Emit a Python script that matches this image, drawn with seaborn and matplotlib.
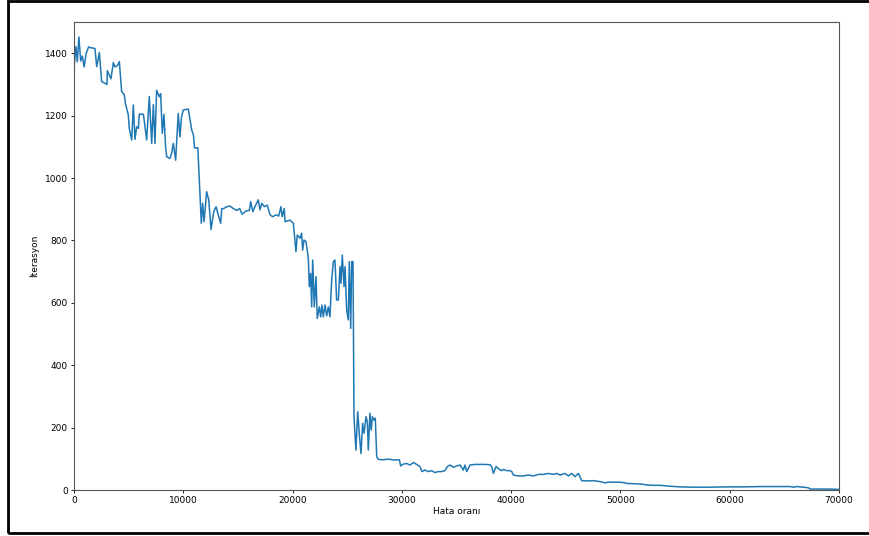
import pandas as pd
import matplotlib.pyplot as plt
import matplotlib.patches as patches
import seaborn as sns

# values
hata = [0, 180, 300, 450, 610, 760, 930, 1110, 1340, 1500, 1920, 2075, 2320, 2530, 3020,
        3050, 3380, 3600, 3750, 3970, 4150, 4360, 4600, 4700, 4970, 5060, 5280, 5430, 5580,
        5730, 5890, 5980, 6350, 6650, 6890, 7110, 7260, 7410, 7560, 7810, 7930, 8080, 8230,
        8380, 8480, 8780, 8930, 9090, 9300, 9540, 9690, 9840, 10000, 10460, 10770, 10930,
        11030, 11330, 11650, 11770, 11900, 12140, 12330, 12540, 12780, 13000, 13210, 13420,
        13520, 13700, 13960, 14270, 14580, 14900, 15160, 15380, 15720, 16040, 16170, 16360,
        16560, 16860, 17020, 17180, 17420, 17680, 17940, 18170, 18500, 18730, 18930, 19050,
        19240, 19310, 19760, 20070, 20310, 20430, 20680, 20830, 20920, 21050, 21230, 21440,
        21530, 21650, 21750, 21840, 21990, 22140, 22260, 22450, 22570, 22690, 22810, 22970,
        23120, 23270, 23420, 23580, 23730, 23880, 24030, 24190, 24340, 24430, 24550, 24710,
        24800, 24950, 25100, 25190, 25320, 25410, 25530, 25620, 25800, 25960, 26100, 26260,
        26410, 26540, 26720, 26840, 26930, 27080, 27200, 27300, 27450, 27570, 27700, 27850,
        28300, 28800, 29300, 29770, 29890, 30140, 30440, 30750, 31050, 31360, 31660, 31840,
        32110, 32410, 32720, 33020, 33330, 33630, 33940, 34160, 34400, 34710, 35010, 35320,
        35620, 35780, 35930, 36230, 36690, 37150, 37610, 38070, 38220, 38370, 38620, 38830,
        38990, 39140, 39300, 39600, 39910, 40060, 40200, 40660, 41120, 41580, 42030, 42490,
        42950, 43410, 43870, 44170, 44480, 44930, 45240, 45540, 45850, 46150, 46370, 46460,
        46910, 47520, 48130, 48590, 48900, 49360, 49970, 50420, 50580, 51190, 51950, 52410,
        53020, 53630, 54550, 55460, 56680, 58210, 59730, 61260, 62780, 64310, 65530, 65830,
        66140, 66750, 67210, 67360, 68890, 70000]
iterasyon = [1352, 1421, 1373, 1452, 1375, 1391, 1356, 1399, 1420, 1418, 1415, 1357, 1402, 1309,
             1300, 1344, 1318, 1370, 1356, 1360, 1373, 1277, 1267, 1240, 1202, 1159, 1122, 1234,
             1124, 1164, 1159, 1205, 1204, 1122, 1261, 1111, 1235, 1111, 1281, 1260, 1270, 1143,
             1204, 1100, 1068, 1063, 1079, 1111, 1057, 1207, 1132, 1196, 1218, 1221, 1154, 1138,
             1096, 1097, 855, 919, 860, 956, 930, 835, 891, 908, 880, 855, 902, 902, 908, 910,
             902, 896, 902, 884, 894, 896, 924, 892, 908, 930, 898, 919, 908, 913, 882, 876, 882,
             878, 908, 876, 902, 860, 865, 855, 764, 817, 807, 823, 769, 801, 796, 743, 652, 694,
             587, 737, 587, 684, 550, 587, 555, 593, 555, 593, 558, 587, 555, 673, 732, 737, 609,
             609, 716, 662, 753, 652, 716, 577, 545, 732, 518, 732, 732, 235, 128, 251, 182, 117,
             214, 182, 235, 219, 128, 246, 192, 235, 224, 230, 107, 98, 97, 99, 96, 97, 77, 83,
             85, 80, 88, 82, 75, 59, 64, 59, 62, 56, 59, 59, 62, 75, 80, 73, 77, 80, 64, 80, 59,
             80, 82, 82, 82, 81, 75, 53, 75, 69, 64, 62, 66, 62, 62, 59, 48, 45, 45, 48, 45, 50,
             50, 53, 50, 53, 48, 53, 45, 53, 43, 53, 37, 30, 29, 30, 27, 23, 25, 25, 25, 23, 21,
             20, 19, 16, 15, 15, 12, 10, 9, 9, 10, 10, 11, 11, 11, 9, 11, 9, 7, 3, 3, 2]

df = pd.DataFrame({"hata": hata, "iterasyon": iterasyon})

fig = plt.figure(figsize=(8.69, 5.36), dpi=100)
ax = fig.add_axes([74 / 869, 1 - 490 / 536, 765 / 869, 468 / 536])
sns.lineplot(x="hata", y="iterasyon", data=df, estimator=None, color="#1f77b4",
             linewidth=1.1, ax=ax)
ax.set_xlim(0, 70000)
ax.set_ylim(0, 1500)
ax.set_xticks(range(0, 70001, 10000))
ax.set_yticks(range(0, 1401, 200))
ax.tick_params(labelsize=6.5, length=2.5, width=0.6, pad=2)
ax.set_xlabel("Hata oranı", fontsize=6.5, labelpad=1)
ax.set_ylabel("İterasyon", fontsize=6.5, labelpad=4)
for s in ax.spines.values():
    s.set_linewidth(0.8)
    s.set_color("#555555")

# screenshot frame
fig.add_artist(patches.Rectangle((8 / 869, 3 / 536), 1.0, 1 - 4 / 536, transform=fig.transFigure,
                                 fill=False, edgecolor="black", linewidth=2))

fig.savefig("out.png", dpi=100)
